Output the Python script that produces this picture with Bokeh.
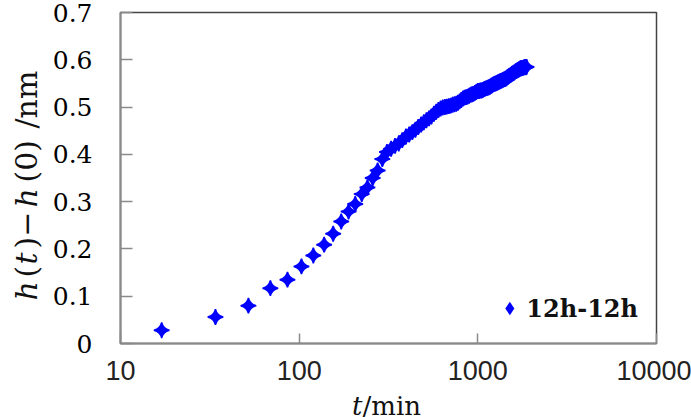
import math
from bokeh.plotting import figure
from bokeh.layouts import row, column
from bokeh.models import (Range1d, FixedTicker, Label, Legend, LegendItem, ColumnDataSource)
from bokeh.embed import file_html
from bokeh.resources import INLINE

# ---- data ----
t_min = [17, 34, 52, 69, 86, 103, 120, 138, 155, 172, 189, 206, 224, 241, 258, 275,
         292, 310, 327, 344, 361, 378, 396, 413, 430, 447, 464, 482, 499, 516, 533,
         550, 568, 585, 602, 619, 636, 654, 671, 688, 705, 722, 740, 757, 774, 791,
         808, 826, 843, 860, 877, 894, 912, 929, 946, 963, 980, 998, 1015, 1032,
         1049, 1066, 1084, 1101, 1118, 1135, 1152, 1170, 1187, 1204, 1221, 1238,
         1256, 1273, 1290, 1307, 1324, 1342, 1359, 1376, 1393, 1410, 1428, 1445,
         1462, 1479, 1496, 1514, 1531, 1548, 1565, 1582, 1600, 1617, 1634, 1651,
         1668, 1686, 1703, 1720, 1737, 1754, 1772, 1789, 1806, 1823, 1840, 1858, 1875]
h_diff = [0.028, 0.056, 0.080, 0.117, 0.135, 0.163, 0.186, 0.209, 0.232, 0.258,
          0.279, 0.295, 0.316, 0.330, 0.350, 0.366, 0.390, 0.405, 0.412, 0.418,
          0.423, 0.430, 0.438, 0.442, 0.447, 0.452, 0.458, 0.463, 0.468, 0.472,
          0.476, 0.480, 0.486, 0.490, 0.494, 0.497, 0.499, 0.500, 0.501, 0.502,
          0.503, 0.505, 0.506, 0.507, 0.509, 0.512, 0.515, 0.518, 0.520, 0.521,
          0.522, 0.524, 0.526, 0.527, 0.528, 0.530, 0.532, 0.534, 0.534, 0.535,
          0.535, 0.536, 0.538, 0.539, 0.540, 0.541, 0.542, 0.543, 0.545, 0.546,
          0.548, 0.549, 0.550, 0.551, 0.552, 0.553, 0.554, 0.555, 0.556, 0.557,
          0.558, 0.559, 0.560, 0.561, 0.563, 0.564, 0.566, 0.567, 0.568, 0.570,
          0.571, 0.572, 0.573, 0.575, 0.576, 0.577, 0.578, 0.579, 0.580, 0.581,
          0.582, 0.582, 0.583, 0.583, 0.584, 0.584, 0.585, 0.584, 0.585]
series_name = "12h-12h"

x_ticks = [10, 100, 1000, 10000]
x_tick_labels = ["10", "100", "1000", "10000"]
y_ticks = [0, 0.1, 0.2, 0.3, 0.4, 0.5, 0.6, 0.7]
y_tick_labels = ["0", "0.1", "0.2", "0.3", "0.4", "0.5", "0.6", "0.7"]

# axis titles: pieces with their font styles (h and t italic)
x_title_pieces = ["t", "/min"]
x_title_styles = ["italic", "normal"]
y_title_pieces = ["h", "(", "t", ")\u2212", "h", "(0)", "/nm"]
y_title_styles = ["italic", "normal", "italic", "normal", "italic", "normal", "normal"]
y_title_offsets = [0, 23, 36, 52, 93, 118, 172]   # px along the rotated title

SERIF = "DejaVu Serif"
AXIS_GRAY = "#8a8a8a"
TXT = "#111111"
BLUE = "#0000ff"

LEFT_W = 45
BOTTOM_H = 26
W, H = 691, 417
FRAME_LEFT = 120   # canvas x of the plot frame's left edge
FRAME_BOTTOM = 343


def blank(width, height):
    f = figure(width=width, height=height, x_range=Range1d(0, 1), y_range=Range1d(0, 1),
               x_axis_location=None, y_axis_location=None,
               output_backend="svg", toolbar_location=None,
               min_border=0, min_border_left=0, min_border_right=0,
               min_border_top=0, min_border_bottom=0)
    f.outline_line_color = None
    f.grid.visible = False
    f.background_fill_color = "white"
    f.border_fill_color = "white"
    return f


# ---- main plot ----
p = figure(width=W - LEFT_W, height=H - BOTTOM_H, x_axis_type="log",
           x_range=Range1d(10, 10000), y_range=Range1d(0, 0.7),
           output_backend="svg", toolbar_location=None,
           min_border_left=FRAME_LEFT - LEFT_W, min_border_right=35,
           min_border_top=12, min_border_bottom=H - BOTTOM_H - FRAME_BOTTOM)
p.background_fill_color = "white"
p.border_fill_color = "white"
p.outline_line_color = "#444444"
p.outline_line_width = 1.5
p.xgrid.visible = False
p.ygrid.visible = False

src = ColumnDataSource(dict(t=t_min, h=h_diff))
r = p.scatter("t", "h", source=src, marker="square_pin", angle=math.pi / 4,
              size=11, fill_color=BLUE, line_color=BLUE, line_width=1.5)
# legend swatch: same data drawn at zero size (invisible in the plot); the legend
# sizes its swatch from the glyph box
r_leg = p.scatter("t", "h", source=src, marker="diamond", size=0,
                  fill_color=BLUE, line_color=None)

for ax in (p.xaxis[0], p.yaxis[0]):
    ax.axis_line_color = AXIS_GRAY
    ax.axis_line_width = 2
    ax.major_tick_line_color = AXIS_GRAY
    ax.major_tick_line_width = 1.5
    ax.major_tick_out = 0
    ax.minor_tick_line_color = None

p.xaxis.ticker = FixedTicker(ticks=x_ticks)
p.xaxis.major_label_overrides = dict(zip(x_ticks, x_tick_labels))
p.xaxis.major_tick_in = 10
p.xaxis.major_label_text_font = "Liberation Sans"
p.xaxis.major_label_text_font_size = "27px"
p.xaxis.major_label_text_color = "#222222"
p.xaxis.major_label_standoff = 17

p.yaxis.ticker = FixedTicker(ticks=y_ticks)
p.yaxis.major_label_overrides = dict(zip(y_ticks, y_tick_labels))
p.yaxis.major_tick_in = 12
p.yaxis.major_label_text_font = SERIF
p.yaxis.major_label_text_font_size = "25px"
p.yaxis.major_label_text_color = "#000000"
p.yaxis.major_label_standoff = 28

legend = Legend(items=[LegendItem(label=series_name, renderers=[r_leg])],
                location="bottom_right", margin=6, padding=12,
                glyph_width=34, glyph_height=34, label_standoff=0,
                label_text_font=SERIF, label_text_font_style="bold",
                label_text_font_size="24px", label_text_color=TXT,
                background_fill_alpha=0, border_line_alpha=0)
p.add_layout(legend)

# ---- y axis title panel (left) ----
left = blank(LEFT_W, H)
for txt, sty, off in zip(y_title_pieces, y_title_styles, y_title_offsets):
    left.add_layout(Label(x=26, y=117 + off, x_units="screen", y_units="screen", text=txt,
                          angle=math.pi / 2, text_font=SERIF, text_font_style=sty,
                          text_font_size="30px", text_align="left",
                          text_baseline="middle", text_color=TXT))

# ---- x axis title panel (bottom); its frame is aligned with the main frame ----
bottom = blank(W - LEFT_W, BOTTOM_H)
for txt, sty, align in zip(x_title_pieces, x_title_styles, ["right", "left"]):
    bottom.add_layout(Label(x=362 - FRAME_LEFT, y=12, x_units="screen", y_units="screen",
                            text=txt, text_font=SERIF, text_font_style=sty,
                            text_font_size="26px", text_align=align,
                            text_baseline="middle", text_color=TXT))

layout = row(left, column(p, bottom))
open("out.html", "w").write(file_html(layout, INLINE))
